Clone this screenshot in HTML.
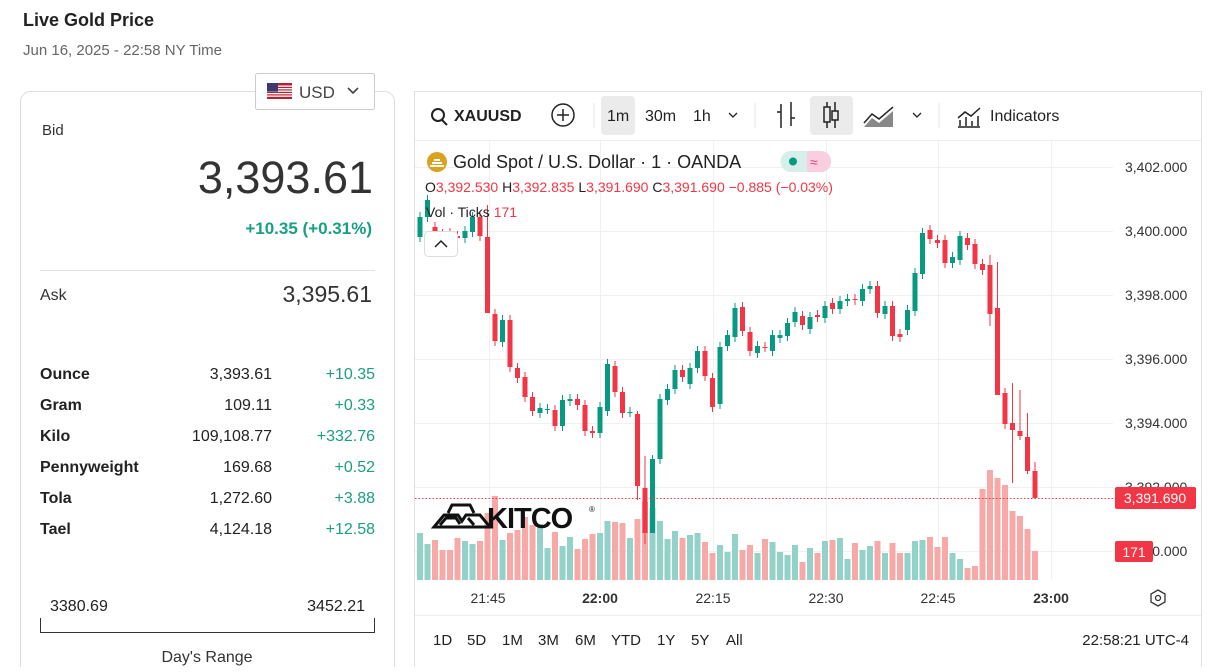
<!DOCTYPE html>
<html><head><meta charset="utf-8"><style>
body{margin:0;width:1213px;height:667px;overflow:hidden;background:#fff;font-family:"Liberation Sans",sans-serif}
svg text{font-family:"Liberation Sans",sans-serif}
</style></head><body>
<svg id="s" width="1213" height="667" xmlns="http://www.w3.org/2000/svg">
<text x="23" y="26" font-size="18" font-weight="bold" fill="#222">Live Gold Price</text>
<text x="23" y="55" font-size="15" fill="#666">Jun 16, 2025 - 22:58 NY Time</text>
<rect x="20.5" y="91.5" width="374" height="600" rx="10" fill="#fff" stroke="#ddd"/>
<rect x="255.5" y="73.5" width="119" height="36" rx="2" fill="#fff" stroke="#ccc"/>
<rect x="267" y="83" width="25" height="16" fill="#b22234"/>
<g fill="#fff"><rect x="267" y="85.5" width="25" height="1.3"/><rect x="267" y="88" width="25" height="1.3"/><rect x="267" y="90.5" width="25" height="1.3"/><rect x="267" y="93" width="25" height="1.3"/><rect x="267" y="95.5" width="25" height="1.3"/></g>
<rect x="267" y="83" width="11" height="8.5" fill="#3c3b6e"/>
<text x="299" y="98" font-size="17" fill="#444">USD</text>
<path d="M348 88 l5 5 l5 -5" fill="none" stroke="#444" stroke-width="1.6"/>
<text x="42" y="135" font-size="15" fill="#333">Bid</text>
<text x="373" y="193" font-size="45" text-anchor="end" fill="#333">3,393.61</text>
<text x="372" y="234" font-size="17" font-weight="bold" text-anchor="end" fill="#1a9e85">+10.35 (+0.31%)</text>
<line x1="40" y1="270.5" x2="375" y2="270.5" stroke="#e2e2e2"/>
<text x="40" y="300" font-size="16" fill="#333">Ask</text>
<text x="372" y="302" font-size="23" text-anchor="end" fill="#333">3,395.61</text>
<g font-size="16" fill="#222">
<text x="40" y="379" font-weight="bold">Ounce</text><text x="272" y="379" text-anchor="end">3,393.61</text><text x="375" y="379" text-anchor="end" fill="#1a9e85">+10.35</text>
<text x="40" y="410" font-weight="bold">Gram</text><text x="272" y="410" text-anchor="end">109.11</text><text x="375" y="410" text-anchor="end" fill="#1a9e85">+0.33</text>
<text x="40" y="441" font-weight="bold">Kilo</text><text x="272" y="441" text-anchor="end">109,108.77</text><text x="375" y="441" text-anchor="end" fill="#1a9e85">+332.76</text>
<text x="40" y="472" font-weight="bold">Pennyweight</text><text x="272" y="472" text-anchor="end">169.68</text><text x="375" y="472" text-anchor="end" fill="#1a9e85">+0.52</text>
<text x="40" y="503" font-weight="bold">Tola</text><text x="272" y="503" text-anchor="end">1,272.60</text><text x="375" y="503" text-anchor="end" fill="#1a9e85">+3.88</text>
<text x="40" y="534" font-weight="bold">Tael</text><text x="272" y="534" text-anchor="end">4,124.18</text><text x="375" y="534" text-anchor="end" fill="#1a9e85">+12.58</text>
<text x="50" y="611">3380.69</text><text x="365" y="611" text-anchor="end">3452.21</text>
</g>
<path d="M40.5 633 V618 M40.5 632.5 H374.5 M374.5 633 V618" stroke="#333" fill="none"/>
<text x="207" y="662" font-size="16" text-anchor="middle" fill="#333">Day's Range</text>

<rect x="414.5" y="91.5" width="787" height="590" fill="#fff" stroke="#e0e0e0"/>
<line x1="415" y1="140.5" x2="1201" y2="140.5" stroke="#eee"/>
<line x1="415" y1="615.5" x2="1201" y2="615.5" stroke="#eee"/>
<g id="grid" stroke="#f0f0f0"></g>
<circle cx="438" cy="115" r="6" fill="none" stroke="#222" stroke-width="2"/><line x1="442" y1="120" x2="447" y2="125" stroke="#222" stroke-width="2"/>
<text x="454" y="121" font-size="16" font-weight="bold" fill="#222">XAUUSD</text>
<circle cx="563" cy="115" r="11" fill="none" stroke="#222" stroke-width="1.5"/><path d="M557 115h12M563 109v12" stroke="#222" stroke-width="1.5"/>
<line x1="594" y1="103" x2="594" y2="128" stroke="#e5e5e5"/>
<rect x="601" y="96" width="34" height="39" rx="4" fill="#ebebeb"/>
<text x="607" y="121" font-size="16" fill="#222">1m</text>
<text x="645" y="121" font-size="16" fill="#222">30m</text>
<text x="693" y="121" font-size="16" fill="#222">1h</text>
<path d="M729 113l4 4 4-4" fill="none" stroke="#222" stroke-width="1.3"/>
<line x1="755" y1="103" x2="755" y2="128" stroke="#e5e5e5"/>
<path d="M781 104v24M781 112h-4M791 102v24M791 118h4" stroke="#222" stroke-width="1.5" fill="none"/>
<rect x="810" y="96" width="43" height="39" rx="4" fill="#ebebeb"/>
<path d="M827 102v26M835 102v26" stroke="#222" stroke-width="1.5"/><rect x="824" y="107" width="6" height="15" fill="#ebebeb" stroke="#222" stroke-width="1.5"/><rect x="832" y="111" width="6" height="9" fill="#ebebeb" stroke="#222" stroke-width="1.5"/>
<path d="M864 123l8-9 7 5 14-12" fill="none" stroke="#222" stroke-width="1.5"/><path d="M864 127l8-9 7 5 14-12v16h-29z" fill="#888"/>
<path d="M913 113l4 4 4-4" fill="none" stroke="#222" stroke-width="1.3"/>
<line x1="939" y1="103" x2="939" y2="128" stroke="#e5e5e5"/>
<path d="M958 127h22M960 126v-6M966 126v-9M972 126v-5M978 126v-10M958 118l7-6 6 4 9-8" fill="none" stroke="#222" stroke-width="1.5"/>
<text x="990" y="121" font-size="16" fill="#222">Indicators</text>

<g id="vol"></g><g id="cdl"></g>
<line x1="415" y1="498.5" x2="1113" y2="498.5" stroke="#f23645" stroke-dasharray="1.5 2"/>
<circle cx="437" cy="162" r="10" fill="#d9a31f"/><path d="M430 166h14M432 163h10M434 160h6" stroke="#fff" stroke-width="2"/>
<text x="453" y="168" font-size="18" fill="#222">Gold Spot / U.S. Dollar · 1 · OANDA</text>
<rect x="781" y="151" width="50" height="21" rx="10" fill="#f9cede"/><path d="M791 151h16v21h-16a10.5 10.5 0 0 1 0-21z" fill="#d6efea"/>
<circle cx="793" cy="161.5" r="4" fill="#089981"/><text x="810" y="167" font-size="14" fill="#e0457b">≈</text>
<text x="425" y="192" font-size="14" fill="#f23645"><tspan fill="#222">O</tspan>3,392.530 <tspan fill="#222">H</tspan>3,392.835 <tspan fill="#222">L</tspan>3,391.690 <tspan fill="#222">C</tspan>3,391.690 −0.885 (−0.03%)</text>
<text x="426" y="217" font-size="14" fill="#222">Vol · Ticks <tspan fill="#f23645">171</tspan></text>
<rect x="424.5" y="231.5" width="33" height="25" rx="4" fill="#fff" stroke="#ddd"/><path d="M435 247l6-6 6 6" fill="none" stroke="#222" stroke-width="1.5"/>
<g transform="translate(434,503)"><path d="M0 24l10-12h14l4 6 4-6h14l10 12z M6 22l6-7h10l4 6M40 22l-6-7" fill="none" stroke="#111" stroke-width="3"/><path d="M14 10l4-8h18l4 8" fill="none" stroke="#111" stroke-width="3"/></g>
<text x="487" y="528" font-size="29" font-weight="bold" fill="#111" letter-spacing="-1">KITCO</text><text x="589" y="512" font-size="8" fill="#111">®</text>
<g font-size="14" fill="#333">
<text x="1125" y="172">3,402.000</text><text x="1125" y="236">3,400.000</text><text x="1125" y="300">3,398.000</text><text x="1125" y="364">3,396.000</text><text x="1125" y="428">3,394.000</text><text x="1125" y="492">3,392.000</text><text x="1125" y="556">3,390.000</text>
</g>
<rect x="1115" y="487" width="81" height="22" rx="2" fill="#f23645"/><text x="1155" y="503" font-size="14" fill="#fff" text-anchor="middle">3,391.690</text>
<rect x="1115" y="541" width="38" height="21" rx="2" fill="#f23645"/><text x="1134" y="557" font-size="14" fill="#fff" text-anchor="middle">171</text>
<g font-size="14" fill="#333" text-anchor="middle">
<text x="488" y="603">21:45</text><text x="600" y="603" font-weight="bold">22:00</text><text x="713" y="603">22:15</text><text x="826" y="603">22:30</text><text x="938" y="603">22:45</text><text x="1051" y="603" font-weight="bold">23:00</text>
</g>
<path d="M1158 590l7 4v8l-7 4-7-4v-8z" fill="none" stroke="#333" stroke-width="1.3"/><circle cx="1158" cy="598" r="2.5" fill="none" stroke="#333" stroke-width="1.3"/>
<g font-size="15" fill="#222"><text x="433" y="645">1D</text><text x="467" y="645">5D</text><text x="502" y="645">1M</text><text x="538" y="645">3M</text><text x="575" y="645">6M</text><text x="611" y="645">YTD</text><text x="657" y="645">1Y</text><text x="691" y="645">5Y</text><text x="726" y="645">All</text>
<text x="1189" y="645" text-anchor="end">22:58:21 UTC-4</text></g>
</svg>
<script>
var NS="http://www.w3.org/2000/svg";
function el(p,t,a){var e=document.createElementNS(NS,t);for(var k in a)e.setAttribute(k,a[k]);document.getElementById(p).appendChild(e);}
[489,600,713,826,938,1051].forEach(function(x){el("grid","line",{x1:x+.5,y1:141,x2:x+.5,y2:580});});
[167,231,295,359,423,487,551].forEach(function(y){el("grid","line",{x1:415,y1:y+.5,x2:1113,y2:y+.5});});
var C=[[217,237,1],[200,217,1],[227,233,0],[234,234,0],[233,238,0],[236,238,0],[231,238,1],[217,232,1],[217,236,0],[237,313,0],[314,341,0],[320,342,1],[320,367,0],[368,378,0],[377,397,0],[397,411,0],[408,413,1],[409,409,1],[410,426,0],[400,426,1],[399,401,1],[399,405,0],[405,431,0],[431,433,0],[407,433,1],[364,411,1],[366,392,0],[392,413,0],[412,412,1],[414,486,0],[488,533,0],[459,533,1],[399,459,1],[389,400,1],[370,389,1],[370,377,0],[368,384,1],[351,368,1],[351,376,0],[378,407,0],[347,404,1],[335,346,1],[308,337,1],[307,331,0],[332,351,0],[346,353,1],[347,347,0],[335,351,1],[335,338,1],[323,336,1],[312,322,1],[316,325,0],[317,329,1],[315,317,0],[306,318,1],[303,309,0],[301,309,1],[299,301,1],[299,300,0],[289,301,1],[286,289,1],[286,313,0],[306,314,1],[306,336,0],[334,337,0],[310,330,1],[273,311,1],[233,274,1],[230,239,0],[240,243,0],[240,263,0],[257,263,1],[236,260,1],[238,245,0],[244,264,0],[264,270,0],[265,314,0],[308,395,0],[393,424,0],[423,430,0],[431,436,0],[437,471,0],[471,498,0]];
var V=[533,544,540,550,550,538,541,544,541,513,496,540,533,530,517,525,524,548,532,546,537,549,539,534,533,521,522,523,538,519,502,508,521,539,531,538,535,533,542,553,545,552,534,550,545,553,539,542,552,555,545,562,548,553,541,540,538,559,543,550,546,541,553,543,553,553,541,540,537,547,537,553,559,568,566,489,470,478,485,511,516,529,551];
var W={9:[205,313],29:[411,500],30:[456,544],31:[455,533],76:[255,326],77:[262,320],79:[383,483],80:[390,440],81:[413,474],82:[462,498]};
C.forEach(function(c,i){var x=420+i*7.5,g=c[2],col=g?"#089981":"#f23645";
var w=W[i]||[c[0]-5,c[1]+5];
el("vol","rect",{x:x-3,y:V[i],width:6,height:580-V[i],fill:g?"#92d2c9":"#f7a9a7"});
el("cdl","line",{x1:x,y1:w[0],x2:x,y2:w[1],stroke:col,"stroke-width":1});
el("cdl","rect",{x:x-2.5,y:c[0],width:5,height:Math.max(1,c[1]-c[0]),fill:col});});
</script>
</body></html>
